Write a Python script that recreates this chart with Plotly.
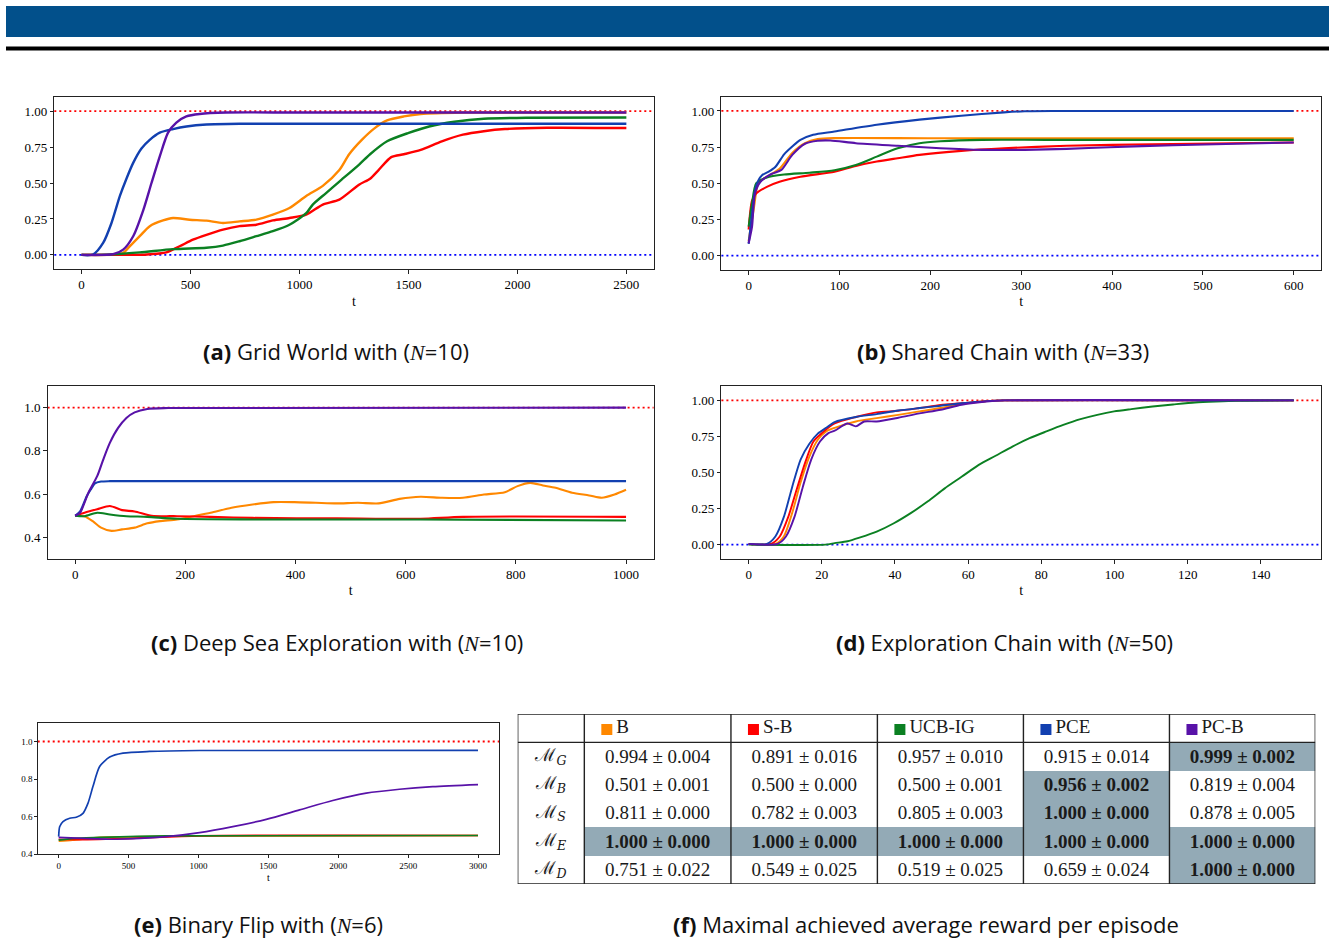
import plotly.graph_objects as go

W, H = 1329, 939

NAMES = ["B", "S-B", "UCB-IG", "PCE", "PC-B"]
COLORS = ["#ff8800", "#ff0000", "#0b8022", "#1240b0", "#5812a8"]

# ---------------- (a) Grid World ----------------
A_B_t = [0, 150, 191, 221, 267, 313, 374, 420, 496, 573, 649, 725, 802, 878, 954, 1031, 1107, 1183, 1228, 1286, 1344, 1402, 1479, 1556, 1750, 2000, 2500]
A_B_v = [0, 0.002, 0.014, 0.06, 0.13, 0.20, 0.24, 0.257, 0.245, 0.238, 0.222, 0.233, 0.245, 0.28, 0.326, 0.41, 0.48, 0.59, 0.70, 0.80, 0.88, 0.935, 0.963, 0.98, 0.99, 0.99, 0.99]
A_SB_t = [0, 200, 300, 389, 450, 511, 573, 649, 725, 802, 878, 954, 1031, 1107, 1183, 1275, 1324, 1363, 1421, 1479, 1556, 1653, 1750, 1846, 1943, 2137, 2500]
A_SB_v = [0, 0, 0.003, 0.018, 0.06, 0.106, 0.14, 0.176, 0.20, 0.21, 0.24, 0.257, 0.28, 0.35, 0.384, 0.49, 0.53, 0.59, 0.68, 0.70, 0.73, 0.79, 0.836, 0.86, 0.875, 0.884, 0.882]
A_UCB_t = [0, 115, 267, 420, 573, 649, 725, 802, 878, 954, 1031, 1061, 1122, 1183, 1275, 1324, 1402, 1498, 1595, 1711, 1846, 2040, 2500]
A_UCB_v = [0, 0.002, 0.018, 0.04, 0.05, 0.065, 0.095, 0.13, 0.165, 0.21, 0.29, 0.35, 0.43, 0.51, 0.63, 0.70, 0.79, 0.847, 0.893, 0.926, 0.947, 0.954, 0.955]
A_PCE_t = [0, 53, 99, 137, 176, 206, 237, 275, 313, 359, 420, 481, 573, 725, 1000, 1500, 2000, 2500]
A_PCE_v = [0, 0.003, 0.083, 0.22, 0.41, 0.53, 0.64, 0.74, 0.80, 0.85, 0.875, 0.893, 0.907, 0.912, 0.912, 0.912, 0.912, 0.912]
A_PCB_t = [0, 145, 191, 237, 283, 321, 359, 397, 435, 481, 542, 664, 1000, 2500]
A_PCB_v = [0, 0.005, 0.037, 0.13, 0.31, 0.50, 0.685, 0.85, 0.92, 0.963, 0.98, 0.99, 0.99, 0.99]

# ---------------- (b) Shared Chain ----------------
B_B_t = [0, 6, 10.7, 20, 34, 48, 62, 76, 94.5, 200, 400, 600]
B_B_v = [0.10, 0.34, 0.50, 0.545, 0.60, 0.71, 0.777, 0.805, 0.812, 0.811, 0.811, 0.811]
B_SB_t = [0, 3.7, 8.4, 20, 34, 57, 94.5, 118, 141, 164, 188, 234, 281, 350, 444, 600]
B_SB_v = [0.18, 0.38, 0.43, 0.475, 0.51, 0.545, 0.58, 0.62, 0.65, 0.673, 0.696, 0.724, 0.742, 0.759, 0.77, 0.782]
B_UCB_t = [0, 3.7, 8.4, 20, 39, 67, 94.5, 118, 141, 164, 188, 211, 257, 327, 600]
B_UCB_v = [0.20, 0.36, 0.50, 0.54, 0.56, 0.573, 0.59, 0.626, 0.684, 0.742, 0.777, 0.79, 0.80, 0.80, 0.80]
B_PCE_t = [0, 3.7, 7, 10.7, 15, 22, 29, 39, 48, 57, 71, 94.5, 141, 188, 234, 281, 304, 340, 600]
B_PCE_v = [0.08, 0.29, 0.45, 0.52, 0.557, 0.58, 0.61, 0.70, 0.754, 0.80, 0.835, 0.858, 0.905, 0.94, 0.967, 0.99, 0.998, 1.0, 1.0]
B_PCB_t = [0, 3.7, 7, 13, 25, 36, 48, 62, 76, 90, 118, 164, 211, 257, 304, 350, 397, 467, 537, 600]
B_PCB_v = [0.085, 0.20, 0.43, 0.51, 0.564, 0.592, 0.696, 0.773, 0.794, 0.796, 0.777, 0.759, 0.742, 0.731, 0.731, 0.738, 0.749, 0.763, 0.773, 0.782]

# ---------------- (c) Deep Sea Exploration ----------------
C_B_t = [0, 17, 32, 47, 66, 85, 108, 131, 154, 185, 215, 246, 284, 322, 360, 398, 437, 475, 513, 551, 589, 627, 666, 704, 742, 780, 803, 826, 849, 872, 902, 933, 956, 979, 1000]
C_B_v = [0.50, 0.498, 0.475, 0.445, 0.43, 0.437, 0.445, 0.465, 0.475, 0.483, 0.498, 0.514, 0.537, 0.552, 0.563, 0.563, 0.56, 0.557, 0.56, 0.557, 0.578, 0.588, 0.583, 0.583, 0.598, 0.609, 0.637, 0.652, 0.64, 0.629, 0.606, 0.594, 0.583, 0.598, 0.62]
C_SB_t = [0, 17, 40, 63, 85, 108, 139, 185, 246, 322, 475, 627, 704, 1000]
C_SB_v = [0.50, 0.514, 0.53, 0.545, 0.526, 0.52, 0.50, 0.498, 0.495, 0.49, 0.488, 0.486, 0.495, 0.495]
C_UCB_t = [0, 17, 40, 63, 93, 131, 185, 322, 627, 1000]
C_UCB_v = [0.50, 0.498, 0.514, 0.506, 0.498, 0.495, 0.486, 0.483, 0.483, 0.478]
C_PCE_t = [0, 9, 21, 28, 36, 47, 63, 1000]
C_PCE_v = [0.50, 0.52, 0.59, 0.62, 0.65, 0.658, 0.66, 0.66]
C_PCB_t = [0, 9, 24, 40, 51, 63, 78, 93, 108, 131, 169, 1000]
C_PCB_v = [0.50, 0.514, 0.606, 0.683, 0.76, 0.837, 0.906, 0.952, 0.978, 0.994, 0.998, 1.0]

# ---------------- (d) Exploration Chain ----------------
D_B_t = [0, 7.3, 9.6, 11.9, 14.2, 16.6, 18.9, 21.2, 23.5, 29.3, 35, 40.9, 46.7, 52.5, 58.2, 64, 70, 149]
D_B_v = [0.003, 0.005, 0.056, 0.22, 0.43, 0.61, 0.727, 0.785, 0.81, 0.854, 0.877, 0.90, 0.924, 0.947, 0.975, 0.993, 1.0, 1.0]
D_SB_t = [0, 6.1, 8.5, 10.8, 13.1, 15.4, 17.7, 20, 23.5, 29.3, 35, 40.9, 46.7, 52.5, 58.2, 65, 70, 149]
D_SB_v = [0.003, 0.005, 0.056, 0.19, 0.38, 0.565, 0.715, 0.773, 0.84, 0.885, 0.917, 0.928, 0.947, 0.968, 0.98, 0.995, 1.0, 1.0]
D_UCB_t = [0, 21, 23.5, 27, 30.5, 35, 39.7, 44.3, 49, 53.6, 58.2, 62.9, 67.5, 72.1, 76.8, 81.4, 86, 90.7, 95.3, 99.9, 104.6, 110.4, 116, 122, 127.7, 133.5, 149]
D_UCB_v = [0, 0, 0.01, 0.023, 0.05, 0.09, 0.148, 0.218, 0.30, 0.39, 0.47, 0.553, 0.616, 0.68, 0.738, 0.785, 0.83, 0.87, 0.90, 0.924, 0.94, 0.958, 0.972, 0.986, 0.993, 0.998, 1.0]
D_PCE_t = [0, 5, 7.3, 9.6, 11.9, 14.2, 16.6, 18.9, 21.2, 23.5, 29.3, 35, 40.9, 46.7, 52.5, 58.2, 65, 70, 149]
D_PCE_v = [0.005, 0.005, 0.056, 0.19, 0.40, 0.59, 0.70, 0.77, 0.81, 0.85, 0.885, 0.905, 0.93, 0.947, 0.963, 0.98, 0.995, 1.0, 1.0]
D_PCB_t = [0, 7.9, 10.2, 12.5, 14.8, 17.1, 19.5, 21.8, 23.5, 27, 29.3, 31.6, 35, 40.9, 46.7, 52.5, 58.2, 65, 70, 149]
D_PCB_v = [0.005, 0.005, 0.056, 0.19, 0.40, 0.59, 0.715, 0.773, 0.79, 0.84, 0.82, 0.854, 0.854, 0.88, 0.91, 0.935, 0.97, 0.993, 1.0, 1.0]

# ---------------- (e) Binary Flip ----------------
E_B_t = [0, 100, 293, 531, 1008, 3000]
E_B_v = [0.47, 0.475, 0.49, 0.493, 0.498, 0.50]
E_SB_t = [0, 150, 531, 1008, 3000]
E_SB_v = [0.48, 0.478, 0.485, 0.498, 0.50]
E_UCB_t = [0, 100, 293, 770, 3000]
E_UCB_v = [0.475, 0.485, 0.49, 0.498, 0.50]
E_PCE_t = [0, 7, 31, 79, 126, 174, 210, 245, 293, 365, 460, 650, 1008, 3000]
E_PCE_v = [0.494, 0.547, 0.574, 0.592, 0.597, 0.618, 0.672, 0.76, 0.867, 0.917, 0.938, 0.947, 0.952, 0.953]
E_PCB_t = [0, 174, 412, 770, 1008, 1246, 1485, 1723, 1961, 2200, 2438, 2676, 3000]
E_PCB_v = [0.49, 0.485, 0.48, 0.494, 0.515, 0.547, 0.586, 0.636, 0.686, 0.725, 0.746, 0.76, 0.771]

# ---------------- (f) table ----------------
TABLE_ROWS = ["G", "B", "S", "E", "D"]
T_B_MEAN = [0.994, 0.501, 0.811, 1.000, 0.751]
T_B_STD = [0.004, 0.001, 0.000, 0.000, 0.022]
T_SB_MEAN = [0.891, 0.500, 0.782, 1.000, 0.549]
T_SB_STD = [0.016, 0.000, 0.003, 0.000, 0.025]
T_UCB_MEAN = [0.957, 0.500, 0.805, 1.000, 0.519]
T_UCB_STD = [0.010, 0.001, 0.003, 0.000, 0.025]
T_PCE_MEAN = [0.915, 0.956, 1.000, 1.000, 0.659]
T_PCE_STD = [0.014, 0.002, 0.000, 0.000, 0.024]
T_PCB_MEAN = [0.999, 0.819, 0.878, 1.000, 1.000]
T_PCB_STD = [0.002, 0.004, 0.005, 0.000, 0.000]

CAPTIONS = [
    ("a", "Grid World with (", "=10)"),
    ("b", "Shared Chain with (", "=33)"),
    ("c", "Deep Sea Exploration with (", "=10)"),
    ("d", "Exploration Chain with (", "=50)"),
    ("e", "Binary Flip with (", "=6)"),
]
CAPTION_F = "Maximal achieved average reward per episode"

# ================= layout / styling =================
def fx(p):
    return p / W


def fy(p):
    return 1 - p / H


TICK_FONT = "Liberation Serif"
CAP_FONT = "Open Sans"
CAP_SIZE = 22
HL_COLOR = "#93aab6"

panels = [
    dict(box=(54.3, 96.7, 653.6, 269.3), xr=[-125, 2625], yr=[-0.1, 1.1], dt=500,
         yt=[0, 0.25, 0.5, 0.75, 1.0], yf=".2f", lw=2.4, tfs=13, lfs=14, tl=3.5,
         series=[(A_B_t, A_B_v), (A_SB_t, A_SB_v), (A_UCB_t, A_UCB_v), (A_PCE_t, A_PCE_v), (A_PCB_t, A_PCB_v)],
         cap=(336, 351)),
    dict(box=(721.4, 96.5, 1321, 270), xr=[-30, 630], yr=[-0.1, 1.1], dt=100,
         yt=[0, 0.25, 0.5, 0.75, 1.0], yf=".2f", lw=2.1, tfs=13, lfs=14, tl=3.5,
         series=[(B_B_t, B_B_v), (B_SB_t, B_SB_v), (B_UCB_t, B_UCB_v), (B_PCE_t, B_PCE_v), (B_PCB_t, B_PCB_v)],
         cap=(1003, 351)),
    dict(box=(47.6, 386, 653.6, 559), xr=[-50, 1050], yr=[0.3, 1.1], dt=200,
         yt=[0.4, 0.6, 0.8, 1.0], yf=".1f", lw=2.1, tfs=13, lfs=14, tl=3.5,
         series=[(C_B_t, C_B_v), (C_SB_t, C_SB_v), (C_UCB_t, C_UCB_v), (C_PCE_t, C_PCE_v), (C_PCB_t, C_PCB_v)],
         cap=(337, 642)),
    dict(box=(721.4, 386, 1321, 559), xr=[-7.45, 156.45], yr=[-0.1, 1.1], dt=20,
         yt=[0, 0.25, 0.5, 0.75, 1.0], yf=".2f", lw=1.9, tfs=13, lfs=14, tl=3.5,
         series=[(D_B_t, D_B_v), (D_SB_t, D_SB_v), (D_UCB_t, D_UCB_v), (D_PCE_t, D_PCE_v), (D_PCB_t, D_PCB_v)],
         cap=(1004, 642)),
    dict(box=(37.7, 722.7, 499, 854.3), xr=[-150, 3150], yr=[0.4, 1.1], dt=500,
         yt=[0.4, 0.6, 0.8, 1.0], yf=".1f", lw=1.7, tfs=9, lfs=10, tl=2.5,
         series=[(E_B_t, E_B_v), (E_SB_t, E_SB_v), (E_UCB_t, E_UCB_v), (E_PCE_t, E_PCE_v), (E_PCB_t, E_PCB_v)],
         cap=(258, 924)),
]

fig = go.Figure()
shapes = []
annotations = []
layout_axes = {}

for i, p in enumerate(panels, start=1):
    xa = "x" if i == 1 else f"x{i}"
    ya = "y" if i == 1 else f"y{i}"
    for (t, v), col, nm in zip(p["series"], COLORS, NAMES):
        fig.add_trace(go.Scatter(x=t, y=v, mode="lines", name=nm,
                                 line=dict(color=col, width=p["lw"], shape="spline", smoothing=0.7),
                                 xaxis=xa, yaxis=ya, showlegend=False, hoverinfo="skip"))
    x0, y0, x1, y1 = p["box"]
    common = dict(showgrid=False, zeroline=False, showline=True, linecolor="#222", linewidth=1,
                  mirror=True, ticks="outside", ticklen=p["tl"], tickwidth=0.8, tickcolor="#222",
                  tickfont=dict(family=TICK_FONT, size=p["tfs"], color="#000"), automargin=False,
                  fixedrange=True)
    layout_axes["xaxis" if i == 1 else f"xaxis{i}"] = dict(
        domain=[fx(x0), fx(x1)], range=p["xr"], anchor=ya, dtick=p["dt"], tick0=0,
        title=dict(text="t", font=dict(family=TICK_FONT, size=p["lfs"], color="#000"), standoff=4),
        **common)
    layout_axes["yaxis" if i == 1 else f"yaxis{i}"] = dict(
        domain=[fy(y1), fy(y0)], range=p["yr"], anchor=xa, tickvals=p["yt"], tickformat=p["yf"],
        **common)
    # reference levels (optimal = 1, minimum = 0)
    for lvl, lc in ((1.0, "#ff0000"), (0.0, "#0000ff")):
        if p["yr"][0] < lvl < p["yr"][1]:
            shapes.append(dict(type="line", xref=f"{xa} domain", yref=ya, x0=0, x1=1, y0=lvl, y1=lvl,
                               layer="below", line=dict(color=lc, width=1.8, dash="2px,3px")))
    key, pre, post = CAPTIONS[i - 1]
    annotations.append(dict(
        xref="paper", yref="paper", x=fx(p["cap"][0]), y=fy(p["cap"][1]), showarrow=False,
        xanchor="center", yanchor="middle",
        text=f"<b>({key})</b> {pre}<i><span style='font-family:Liberation Serif'>N</span></i>{post}",
        font=dict(family=CAP_FONT, size=CAP_SIZE, color="#111")))

# ---------------- table (f) as a heatmap on its own axes ----------------
COL_WIDTHS = [66.6, 146.6, 146.4, 146.0, 146.0, 145.8]
TBL_BOX = (517.7, 714.0, 1315.3, 884.0)
edges = [0]
for w in COL_WIDTHS:
    edges.append(edges[-1] + w)
centers = [(edges[k] + edges[k + 1]) / 2 for k in range(len(COL_WIDTHS))]

means = [T_B_MEAN, T_SB_MEAN, T_UCB_MEAN, T_PCE_MEAN, T_PCB_MEAN]
stds = [T_B_STD, T_SB_STD, T_UCB_STD, T_PCE_STD, T_PCB_STD]
nrow = len(TABLE_ROWS)
row_max = [max(m[r] for m in means) for r in range(nrow)]
best = [[means[c][r] == row_max[r] for c in range(len(means))] for r in range(nrow)]

z = [[0] * (len(means) + 1)]
for r in range(nrow):
    z.append([0] + [1 if b else 0 for b in best[r]])

fig.add_trace(go.Heatmap(x=edges, y=list(range(nrow + 2)), z=z, zmin=0, zmax=1,
                         colorscale=[[0, "#ffffff"], [1, HL_COLOR]], showscale=False,
                         xaxis="x6", yaxis="y6", hoverinfo="skip", xgap=0, ygap=0))

# cell values
vx, vy, vt = [], [], []
for c in range(len(means)):
    for r in range(nrow):
        s = f"{means[c][r]:.3f} ± {stds[c][r]:.3f}"
        vx.append(centers[c + 1])
        vy.append(r + 1.55)
        vt.append(f"<b>{s}</b>" if best[r][c] else s)
fig.add_trace(go.Scatter(x=vx, y=vy, text=vt, mode="text", textposition="middle center",
                         textfont=dict(family="Liberation Serif", size=19, color="#1a1a1a"),
                         xaxis="x6", yaxis="y6", showlegend=False, hoverinfo="skip"))
# row labels
fig.add_trace(go.Scatter(x=[centers[0]] * nrow, y=[r + 1.5 for r in range(nrow)],
                         text=[f"ℳ<sub><i>{k}</i></sub>" for k in TABLE_ROWS],
                         mode="text", textposition="middle center",
                         textfont=dict(family="DejaVu Serif", size=18, color="#1a1a1a"),
                         xaxis="x6", yaxis="y6", showlegend=False, hoverinfo="skip"))
# header: colour squares + names
SQ_OFF, TXT_OFF = 22.5, 32
fig.add_trace(go.Scatter(x=[edges[c + 1] + SQ_OFF for c in range(len(NAMES))], y=[0.55] * len(NAMES),
                         mode="markers", marker=dict(symbol="square", size=11, color=COLORS, line=dict(width=0)),
                         xaxis="x6", yaxis="y6", showlegend=False, hoverinfo="skip"))
fig.add_trace(go.Scatter(x=[edges[c + 1] + TXT_OFF for c in range(len(NAMES))], y=[0.52] * len(NAMES),
                         text=NAMES, mode="text", textposition="middle right",
                         textfont=dict(family="Liberation Serif", size=19, color="#1a1a1a"),
                         xaxis="x6", yaxis="y6", showlegend=False, hoverinfo="skip"))

layout_axes["xaxis6"] = dict(domain=[fx(TBL_BOX[0]), fx(TBL_BOX[2])], range=[0, edges[-1]],
                             visible=False, anchor="y6", fixedrange=True)
layout_axes["yaxis6"] = dict(domain=[fy(TBL_BOX[3]), fy(TBL_BOX[1])], range=[nrow + 1, 0],
                             visible=False, anchor="x6", fixedrange=True)

# table rules
for e in edges:
    shapes.append(dict(type="line", xref="x6", yref="y6", x0=e, x1=e, y0=0, y1=nrow + 1,
                       layer="above", line=dict(color="#222", width=1.4)))
for yy in (0, 1, nrow + 1):
    shapes.append(dict(type="line", xref="x6", yref="y6", x0=0, x1=edges[-1], y0=yy, y1=yy,
                       layer="above", line=dict(color="#222", width=1.4)))

annotations.append(dict(xref="paper", yref="paper", x=fx(926), y=fy(924), showarrow=False,
                        xanchor="center", yanchor="middle",
                        text=f"<b>(f)</b> {CAPTION_F}",
                        font=dict(family=CAP_FONT, size=CAP_SIZE, color="#111")))

# page header decoration
shapes.append(dict(type="rect", xref="paper", yref="paper", x0=fx(6), x1=1, y0=fy(37), y1=fy(6),
                   fillcolor="#02508b", line=dict(width=0), layer="below"))
shapes.append(dict(type="rect", xref="paper", yref="paper", x0=fx(6), x1=1, y0=fy(50.5), y1=fy(46.5),
                   fillcolor="#000000", line=dict(width=0), layer="below"))

fig.update_layout(width=W, height=H, margin=dict(l=0, r=0, t=0, b=0),
                  paper_bgcolor="white", plot_bgcolor="white",
                  shapes=shapes, annotations=annotations, **layout_axes)

fig.write_html("out.html")
